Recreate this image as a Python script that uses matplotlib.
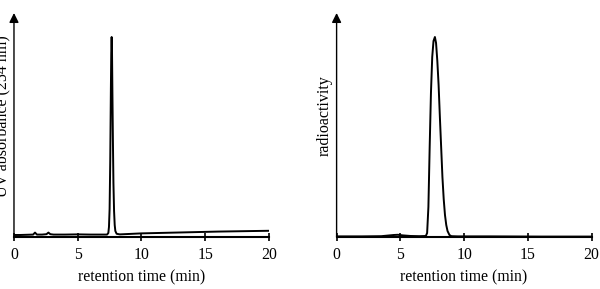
import matplotlib
matplotlib.use("Agg")
import matplotlib.pyplot as plt

plt.rcParams['font.family'] = ['Liberation Serif', 'DejaVu Serif']

# UV trace (254 nm), arbitrary units, peak = 100
uv_time = [0.0, 0.5, 1.0, 1.5, 1.65, 1.8, 2.2, 2.55, 2.7, 2.85, 3.1, 4.0, 5.0, 6.0, 7.0, 7.30,
           7.40, 7.45, 7.50, 7.55, 7.60, 7.63, 7.66, 7.69, 7.72, 7.76, 7.80, 7.85, 7.90,
           7.95, 8.05, 8.30, 9.0, 10.0, 12.0, 14.0, 16.0, 18.0, 20.0]
uv_signal = [1.0, 1.0, 1.1, 1.2, 2.2, 1.2, 1.2, 1.4, 2.2, 1.4, 1.2, 1.2, 1.3, 1.2, 1.2, 1.2,
             2.0, 5.0, 14.0, 38.0, 74.0, 92.0, 100.0, 92.0, 72.0, 48.0, 27.0, 13.0, 6.0,
             3.0, 1.6, 1.3, 1.5, 1.8, 2.1, 2.4, 2.7, 2.9, 3.1]

# radioactivity trace, arbitrary units, peak = 100
rad_time = [0.0, 2.0, 3.5, 4.0, 4.5, 4.8, 5.2, 5.8, 6.5, 7.00, 7.10, 7.20, 7.30, 7.40, 7.50,
            7.60, 7.71, 7.80, 7.90, 8.00, 8.10, 8.20, 8.30, 8.40, 8.50, 8.60, 8.70, 8.85,
            9.00, 9.50, 12.0, 16.0, 20.0]
rad_signal = [0.3, 0.3, 0.4, 0.7, 1.0, 1.1, 0.8, 0.5, 0.4, 0.5, 2.0, 15.0, 45.0, 72.0, 90.0,
              98.0, 100.0, 97.0, 88.0, 76.0, 60.0, 45.0, 30.0, 19.0, 11.0, 6.0, 3.0, 1.0,
              0.4, 0.3, 0.3, 0.2, 0.2]

x_ticks = [0, 5, 10, 15, 20]

fig = plt.figure(figsize=(6, 2.89), dpi=100)
ax1 = fig.add_axes([0.0233, 0.18, 0.425, 0.775])
ax2 = fig.add_axes([0.561, 0.18, 0.425, 0.775])

panels = [(ax1, uv_time, uv_signal, 'UV absorbance (254 nm)'),
          (ax2, rad_time, rad_signal, 'radioactivity')]

for ax, t, s, ylab in panels:
    ax.plot(t, s, color='black', linewidth=1.4)
    ax.set_xlim(0, 20)
    ax.set_ylim(0, 112)
    ax.set_xticks(x_ticks)
    ax.set_yticks([])
    for side in ['top', 'right', 'left']:
        ax.spines[side].set_visible(False)
    ax.spines['bottom'].set_linewidth(1.5)
    ax.tick_params(axis='x', direction='inout', length=6, width=1.2, labelsize=11.3, pad=4)
    ax.annotate('', xy=(0, 1), xytext=(0, 0), xycoords='axes fraction',
                arrowprops=dict(arrowstyle='-|>', color='black', lw=1.0,
                                mutation_scale=14, shrinkA=0, shrinkB=0))
    ax.set_xlabel('retention time (min)', fontsize=11.3, labelpad=5)
    ax.set_ylabel(ylab, fontsize=11.5)
    ax.yaxis.set_label_coords(-0.014, 0.54)

fig.savefig('out.png', dpi=100)
